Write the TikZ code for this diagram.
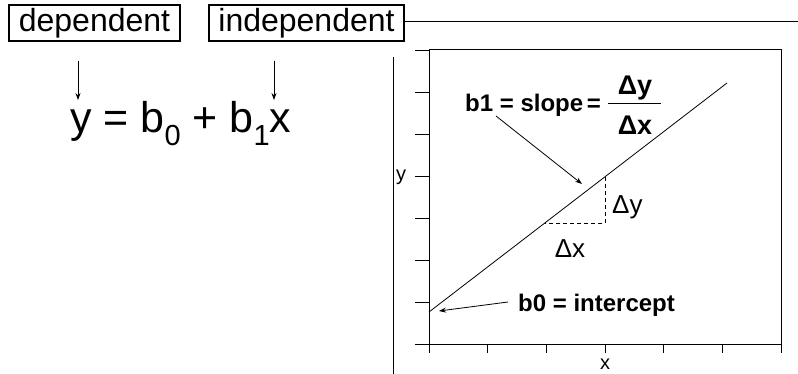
\documentclass[tikz,border=0pt]{standalone}
\usepackage{fontspec}
\setmainfont{Liberation Sans}
\usetikzlibrary{arrows.meta}
\begin{document}
\begin{tikzpicture}[x=1pt,y=-1pt,
  thin line/.style={line width=0.8pt},
  labelbox/.style={draw,line width=1.1pt,minimum height=36pt,inner sep=0pt,font=\fontsize{32}{36}\selectfont},
  arr/.style={thin line,-{Stealth[length=7pt,width=5pt]}},
  tickline/.style={line width=0.9pt},
  boldlbl/.style={font=\fontsize{24}{26}\selectfont\bfseries,inner sep=0pt},
  reglbl/.style={font=\fontsize{26}{30}\selectfont,inner sep=0pt},
  axislbl/.style={font=\fontsize{20}{22}\selectfont,inner sep=0pt}]
\useasboundingbox (0,0) rectangle (798,374);
% label boxes
\node[labelbox,minimum width=171pt] (dep) at (94.5,23) {dependent};
\node[labelbox,minimum width=195pt] (indep) at (306.5,23) {independent};
% equation
\node[anchor=base west,inner sep=0pt,font=\fontsize{43}{46}\selectfont] (eq) at (70,133)
  {y = b\raisebox{-0.3em}{\fontsize{29}{30}\selectfont 0} + b\raisebox{-0.3em}{\fontsize{29}{30}\selectfont 1}x};
\coordinate (ytop) at (78,100);
\coordinate (xtop) at (274,100);
\draw[arr] (dep.south -| ytop) ++(0,19) coordinate (da) -- (ytop);
\draw[arr] (indep.south -| xtop) ++(0,19) coordinate (ia) -- (xtop);
% frame remnants
\coordinate (frr) at (798,21);
\draw[thin line] (indep.east |- frr) -- (frr);
\coordinate (vt) at (393,57);
\coordinate (vb) at (393,374);
\draw[thin line] (vt) -- (vb);
% plot box
\coordinate (pbl) at (429,344);
\coordinate (ptr) at (781,50);
\draw[line width=1pt] (pbl) rectangle (ptr);
\foreach \yy in {50,92,134,176,218,260,302,344}
  \draw[tickline] (415,\yy) -- (429,\yy);
\foreach \i in {0,...,6}
  \draw[tickline] ({429+\i*58.67},344) -- ({429+\i*58.67},353);
\node[axislbl] (ylab) at (401,177) {y};
\node[axislbl] (xlab) at (605,364) {x};
% regression line
\coordinate (l0) at (429,312);
\coordinate (l1) at (727,83);
\draw[thin line] (l0) -- (l1);
% slope triangle
\coordinate (tA) at (605,177);
\coordinate (tC) at (605,223);
\coordinate (tB) at (545,223);
\draw[thin line,dashed,dash pattern=on 4pt off 3pt] (tA) -- (tC) -- (tB);
\node[reglbl,anchor=west] (dy) at (612,207) {Δy};
\node[reglbl] (dx) at (570,249) {Δx};
% slope label
\node[boldlbl,font=\fontsize{24}{28}\selectfont\bfseries,anchor=base west] (b1) at (465,112) {b1 = slope\hspace{-3pt} =};
\node[boldlbl,font=\fontsize{27}{28}\selectfont\bfseries] (fnum) at (635,88) {Δy};
\node[boldlbl,font=\fontsize{27}{28}\selectfont\bfseries] (fden) at (635,125) {Δx};
\coordinate (fbl) at (608,104);
\coordinate (fbr) at (661,104);
\draw[line width=1pt] (fbl) -- (fbr);
\coordinate (s0) at (496,116);
\coordinate (s1) at (582,184);
\draw[arr] (s0) -- (s1);
% intercept label
\node[boldlbl,anchor=base west] (b0) at (518,311) {b0 = intercept};
\coordinate (i0) at (508,302);
\coordinate (i1) at (439,311);
\draw[arr] (i0) -- (i1);
\end{tikzpicture}
\end{document}
